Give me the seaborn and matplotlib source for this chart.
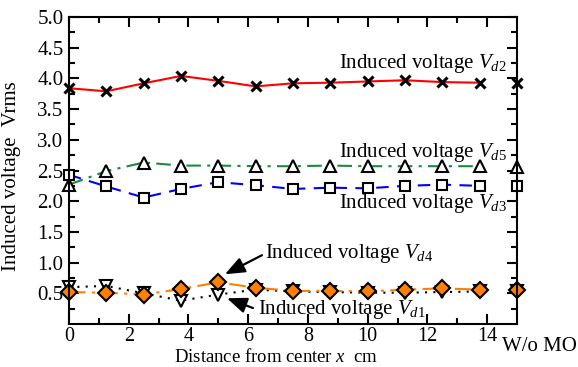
import matplotlib
matplotlib.use("Agg")
import matplotlib.pyplot as plt
import seaborn as sns
import numpy as np
import pandas as pd

# ---- data ----
x_pos = [0, 1.25, 2.5, 3.75, 5, 6.25, 7.5, 8.75, 10, 11.25, 12.5, 13.75]
wo_x = 15
vd2 = [3.84, 3.79, 3.92, 4.04, 3.96, 3.87, 3.92, 3.93, 3.95, 3.97, 3.94, 3.93]
vd2_wo = 3.93
vd5 = [2.27, 2.49, 2.63, 2.58, 2.58, 2.57, 2.57, 2.58, 2.57, 2.57, 2.57, 2.57]
vd5_wo = 2.56
vd3 = [2.43, 2.24, 2.06, 2.20, 2.31, 2.26, 2.20, 2.22, 2.21, 2.25, 2.27, 2.25]
vd3_wo = 2.24
vd4 = [0.52, 0.51, 0.48, 0.57, 0.68, 0.59, 0.54, 0.54, 0.53, 0.56, 0.58, 0.56]
vd4_wo = 0.56
vd1 = [0.60, 0.62, 0.50, 0.38, 0.48, 0.56, 0.53, 0.52, 0.51, 0.51, 0.52, 0.53]
vd1_wo = 0.54

x_ticks = [0, 2, 4, 6, 8, 10, 12, 14]
y_ticks = [0.5, 1.0, 1.5, 2.0, 2.5, 3.0, 3.5, 4.0, 4.5, 5.0]

sns.set_theme(style="ticks")
plt.rcParams['font.family'] = ['Liberation Serif', 'DejaVu Serif']
plt.rcParams['mathtext.fontset'] = 'custom'
plt.rcParams['mathtext.rm'] = 'Liberation Serif'
plt.rcParams['mathtext.it'] = 'Liberation Serif:italic'
for k in ['text.color', 'axes.labelcolor', 'xtick.color', 'ytick.color', 'axes.edgecolor']:
    plt.rcParams[k] = 'black'

fig = plt.figure(figsize=(5.78, 3.67), dpi=100)
ax = fig.add_axes([69/578, 1-324/367, (517-69)/578, (324-17)/367])

ms = 7.5
def draw(y, y_wo, color, ls, marker, mfc, msz=ms, mew=1.5):
    sns.lineplot(x=x_pos, y=y, ax=ax, color=color, linestyle=ls, lw=1.5,
                 marker=marker, markersize=msz, markerfacecolor=mfc,
                 markeredgecolor='black', markeredgewidth=mew, clip_on=False)
    sns.lineplot(x=[wo_x], y=[y_wo], ax=ax, color=color, linestyle='none',
                 marker=marker, markersize=msz, markerfacecolor=mfc,
                 markeredgecolor='black', markeredgewidth=mew, clip_on=False)

draw(vd2, vd2_wo, '#ff0000', '-', 'x', 'black', msz=7.5, mew=2.2)
draw(vd5, vd5_wo, '#1a8a3e', (0, (7, 3, 1.5, 3)), '^', 'white', msz=8)
draw(vd3, vd3_wo, '#0000ff', (0, (6, 4)), 's', 'white', msz=7.5)
draw(vd1, vd1_wo, 'black', (0, (1, 3)), 'v', 'white', msz=8)
draw(vd4, vd4_wo, '#ff8000', (0, (8, 3, 1.5, 3)), 'D', '#ff8000', msz=8)

ax.set_xlim(0, 15)
ax.set_ylim(0, 5)
ax.set_xticks(x_ticks)
ax.set_xticklabels([str(t) for t in x_ticks])
ax.set_xticks(np.arange(1, 15, 2), minor=True)
ax.set_yticks(y_ticks)
ax.set_yticklabels([f"{t:.1f}" for t in y_ticks])
ax.set_yticks(np.arange(0.25, 5, 0.5), minor=True)
ax.tick_params(which='both', direction='in', top=True, right=True, width=1.5,
               colors='black')
ax.tick_params(axis='y', labelsize=15)
ax.tick_params(axis='x', labelsize=14.5)
ax.tick_params(which='major', length=7, pad=4)
ax.tick_params(which='minor', length=4)
ax.tick_params(axis='x', which='major', pad=2.5)
for s in ax.spines.values():
    s.set_linewidth(1.5)
    s.set_color('black')

ax.set_xlabel("Distance from center $x$  cm", fontsize=13.5, color='black')
ax.xaxis.set_label_coords(0.462, -0.078)
ax.set_ylabel("Induced voltage  Vrms", fontsize=15, color='black')
ax.yaxis.set_label_coords(-0.108, 0.482)

ax.text(14.5, -0.36, "W/o MO", fontsize=15, ha='left', va='center', clip_on=False)

tfs = 15
ax.text(14.66, 4.25, "Induced voltage $V_{d2}$", fontsize=tfs, ha='right', va='center')
ax.text(14.66, 2.80, "Induced voltage $V_{d5}$", fontsize=tfs, ha='right', va='center')
ax.text(14.66, 1.97, "Induced voltage $V_{d3}$", fontsize=tfs, ha='right', va='center')
ax.text(6.56, 1.15, "Induced voltage $V_{d4}$", fontsize=tfs, ha='left', va='center')
ax.text(6.33, 0.23, "Induced voltage $V_{d1}$", fontsize=tfs, ha='left', va='center')

ap = dict(arrowstyle='-|>,head_length=1.0,head_width=0.4', color='black', lw=1.6,
          shrinkA=0, shrinkB=0)
ax.annotate('', xy=(5.22, 0.81), xytext=(6.46, 1.12), arrowprops=ap)
ax.annotate('', xy=(5.29, 0.42), xytext=(6.16, 0.26), arrowprops=ap)

fig.savefig("out.png", dpi=100)
